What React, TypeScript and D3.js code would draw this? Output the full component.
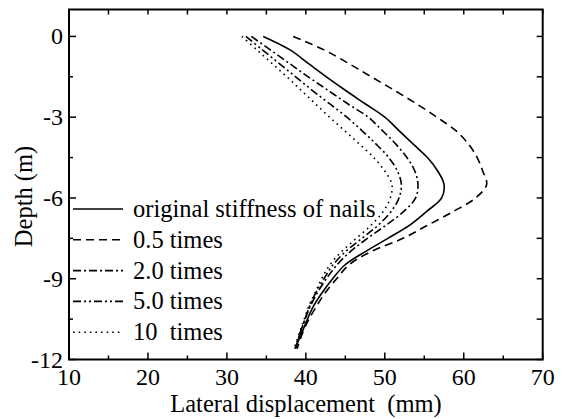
import React from 'react';
import * as d3 from 'd3';

const depths = [0, -0.5, -1, -1.5, -2, -2.5, -3, -3.5, -4, -4.5, -5, -5.5, -6, -6.5, -7, -7.5, -8, -8.5, -9, -9.5, -10, -10.5, -11, -11.6];
const original = [34.6, 38.0, 40.3, 42.6, 45.0, 47.5, 50.0, 51.8, 53.6, 55.4, 56.7, 57.5, 57.2, 55.3, 53.2, 50.4, 47.5, 44.9, 43.4, 42.1, 41.0, 40.2, 39.5, 38.6];
const times05 = [38.4, 42.3, 45.4, 48.3, 51.2, 54.0, 56.6, 59.0, 60.6, 61.7, 62.4, 62.9, 61.5, 58.7, 55.5, 52.3, 48.2, 45.4, 43.9, 42.5, 41.4, 40.4, 39.6, 38.9];
const times20 = [33.1, 35.5, 37.9, 40.3, 42.8, 45.3, 47.9, 49.7, 51.4, 52.8, 53.8, 54.2, 53.9, 52.4, 50.2, 47.8, 45.6, 43.9, 42.6, 41.5, 40.6, 39.9, 39.3, 38.7];
const times50 = [32.4, 34.5, 36.6, 38.7, 40.8, 43.0, 45.2, 47.1, 48.9, 50.5, 51.6, 52.1, 51.8, 50.8, 49.2, 47.1, 45.0, 43.4, 42.3, 41.3, 40.5, 39.9, 39.3, 38.6];
const times10 = [31.9, 33.8, 35.7, 37.6, 39.4, 41.2, 43.0, 44.9, 46.8, 48.6, 50.0, 50.9, 50.7, 49.8, 48.3, 46.4, 44.5, 43.0, 42.0, 41.2, 40.4, 39.8, 39.2, 38.5];

const seriesNames = ['original stiffness of nails', '0.5 times', '2.0 times', '5.0 times', '10  times'];
const seriesValues = [original, times05, times20, times50, times10];
const dashes = ['none', '8,5', '8,3,2,3', '8,3,2,3,2,3', '1.6,4'];

const xTicks = [10, 20, 30, 40, 50, 60, 70];
const xMinor = [15, 25, 35, 45, 55, 65];
const yTicks = [0, -3, -6, -9, -12];
const yMinor = [-1.5, -4.5, -7.5, -10.5];

const W = 565, H = 419;
const L = 69, R = 542.7, T = 9.5, B = 359.5;
const FONT = "'Liberation Serif', 'Times New Roman', serif";

export default function App() {
  const x = d3.scaleLinear().domain([10, 70]).range([L, R]);
  const y = d3.scaleLinear().domain([1, -12]).range([T, B]);
  const line = d3.line<[number, number]>()
    .x(d => x(d[0]))
    .y(d => y(d[1]))
    .curve(d3.curveCatmullRom.alpha(0.5));
  const legendY0 = 209;
  const legendStep = 30.8;
  const ts = { fontFamily: FONT, whiteSpace: 'pre' as const };
  return (
    <svg width={W} height={H} style={{ position: 'absolute', left: 0, top: 0, background: '#fff' }}>
      <rect x={0} y={0} width={W} height={H} fill="#fff" />
      {seriesValues.map((vals, i) => (
        <path key={i} d={line(vals.map((v, j) => [v, depths[j]] as [number, number])) || ''}
          fill="none" stroke="#000" strokeWidth={1.6} strokeDasharray={dashes[i]} />
      ))}
      <rect x={L} y={T} width={R - L} height={B - T} fill="none" stroke="#000" strokeWidth={2} />
      {xTicks.map(t => <line key={'xb' + t} x1={x(t)} x2={x(t)} y1={B} y2={B - 7} stroke="#000" strokeWidth={1.5} />)}
      {xMinor.map(t => <line key={'xbm' + t} x1={x(t)} x2={x(t)} y1={B} y2={B - 4} stroke="#000" strokeWidth={1.5} />)}
      {xTicks.concat(xMinor).map(t => <line key={'xt' + t} x1={x(t)} x2={x(t)} y1={T} y2={T + 5} stroke="#000" strokeWidth={1.5} />)}
      {yTicks.map(t => <line key={'yl' + t} x1={L} x2={L + 7} y1={y(t)} y2={y(t)} stroke="#000" strokeWidth={1.5} />)}
      {yMinor.map(t => <line key={'ylm' + t} x1={L} x2={L + 4} y1={y(t)} y2={y(t)} stroke="#000" strokeWidth={1.5} />)}
      {yTicks.concat(yMinor).map(t => <line key={'yr' + t} x1={R} x2={R - 6} y1={y(t)} y2={y(t)} stroke="#000" strokeWidth={1.5} />)}
      {xTicks.map(t => (
        <text key={'xl' + t} x={x(t)} y={B + 25} textAnchor="middle" fontSize={24} style={ts}>{t}</text>
      ))}
      {yTicks.map(t => (
        <text key={'yll' + t} x={L - 6} y={y(t) + 8} textAnchor="end" fontSize={24} style={ts}>{t}</text>
      ))}
      <text x={306} y={412} textAnchor="middle" fontSize={24.5} style={ts}>Lateral displacement  (mm)</text>
      <text transform={`translate(32, ${(T + B) / 2 + 12}) rotate(-90)`} textAnchor="middle" fontSize={24.5} style={ts}>Depth (m)</text>
      {seriesNames.map((n, i) => (
        <g key={'lg' + i}>
          <line x1={73} x2={123} y1={legendY0 + i * legendStep} y2={legendY0 + i * legendStep}
            stroke="#000" strokeWidth={1.6} strokeDasharray={dashes[i]} />
          <text x={133} y={legendY0 + i * legendStep + 8} fontSize={24.5} style={ts}>{n}</text>
        </g>
      ))}
    </svg>
  );
}
